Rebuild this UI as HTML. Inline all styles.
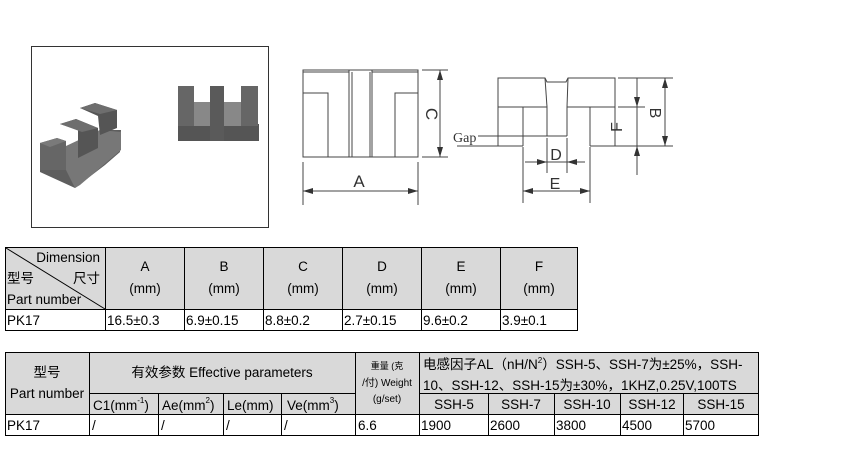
<!DOCTYPE html>
<html><head><meta charset="utf-8"><style>
html,body{margin:0;padding:0;background:#fff;}
svg{display:block;font-family:"Liberation Sans","Noto Sans CJK SC",sans-serif;}
</style></head><body>
<svg width="850" height="469" viewBox="0 0 850 469" xmlns="http://www.w3.org/2000/svg">
<rect x="31.5" y="46.5" width="237" height="181" fill="#fff" stroke="#333" stroke-width="1"/>
<g>
<rect x="178" y="124" width="81" height="17" fill="#555"/>
<rect x="178" y="86" width="16" height="40" fill="#666"/>
<rect x="210" y="86" width="14" height="55" fill="#5a5a5a"/>
<rect x="241" y="86" width="17" height="40" fill="#666"/>
<rect x="194" y="102" width="16" height="24" fill="#888"/>
<rect x="224" y="102" width="17" height="24" fill="#888"/>
</g>
<g>
<polygon points="40,145 40,172 75,188 105,165 120,152 121,130 100,130 60,150" fill="#5e5e5e"/>
<polygon points="40,143 57,138 66,141 66,170 40,170" fill="#666"/>
<polygon points="66,170 66,146 100,130 121,132 121,150 80,185 75,188" fill="#777"/>
<polygon points="60,124 76,119 98,128 98,148 78,158 78,130" fill="#555"/>
<polygon points="80,108 95,103 117,110 117,128 100,135 98,116" fill="#555"/>
<polygon points="40,143 57,138 66,141 50,147" fill="#7a7a7a"/>
<polygon points="60,124 76,119 98,128 82,132" fill="#6e6e6e"/>
<polygon points="80,108 95,103 117,110 100,114" fill="#6e6e6e"/>
</g>
<g stroke="#444" stroke-width="1" fill="none">
<rect x="303" y="70" width="115" height="87"/>
<line x1="303" y1="72" x2="349" y2="72"/><line x1="372" y1="72" x2="418" y2="72"/>
<line x1="349" y1="70" x2="349" y2="157"/><line x1="352" y1="72" x2="352" y2="157"/>
<line x1="370" y1="72" x2="370" y2="157"/><line x1="372" y1="70" x2="372" y2="157"/>
<polyline points="303,93 328,93 328,157"/>
<polyline points="418,93 395,93 395,157"/>
<line x1="422" y1="70" x2="448" y2="70"/><line x1="422" y1="157" x2="448" y2="157"/>
<line x1="440" y1="70" x2="440" y2="157"/>
<line x1="303" y1="162" x2="303" y2="205"/><line x1="418" y1="162" x2="418" y2="205"/>
<line x1="303" y1="191" x2="418" y2="191"/>
</g>
<g fill="#333">
<polygon points="440,70 437,80 443,80"/><polygon points="440,157 437,147 443,147"/>
<polygon points="303,191 313,188 313,194"/><polygon points="418,191 408,188 408,194"/>
</g>
<text x="359" y="187" font-size="17" text-anchor="middle" fill="#333">A</text>
<text transform="translate(426,114) rotate(90)" font-size="17" text-anchor="middle" fill="#333">C</text>
<g stroke="#444" stroke-width="1" fill="none">
<polyline points="498,146 498,78 545,78 547,82 566,82 568,78 615,78 615,146"/>
<line x1="498" y1="107" x2="547" y2="107"/><line x1="567" y1="107" x2="615" y2="107"/>
<line x1="545" y1="78" x2="547" y2="107"/><line x1="568" y1="78" x2="567" y2="107"/>
<polyline points="523,146 523,107"/><polyline points="590,146 590,107"/>
<line x1="547" y1="107" x2="547" y2="136"/><line x1="567" y1="107" x2="567" y2="136"/>
<line x1="478" y1="136" x2="567" y2="136"/>
<line x1="457" y1="146" x2="523" y2="146"/><line x1="590" y1="146" x2="673" y2="146"/>
<line x1="618" y1="78" x2="673" y2="78"/><line x1="618" y1="107" x2="645" y2="107"/>
<line x1="637" y1="78" x2="637" y2="175"/><line x1="665" y1="78" x2="665" y2="146"/>
<line x1="547" y1="138" x2="547" y2="173"/><line x1="567" y1="138" x2="567" y2="173"/>
<line x1="525" y1="162" x2="585" y2="162"/>
<line x1="523" y1="147" x2="523" y2="203"/><line x1="590" y1="147" x2="590" y2="203"/>
<line x1="523" y1="191" x2="590" y2="191"/>
</g>
<g fill="#333">
<polygon points="637,107 634,97 640,97"/><polygon points="637,146 634,156 640,156"/>
<polygon points="665,78 662,88 668,88"/><polygon points="665,146 662,136 668,136"/>
<polygon points="547,162 537,159 537,165"/><polygon points="567,162 577,159 577,165"/>
<polygon points="523,191 533,188 533,194"/><polygon points="590,191 580,188 580,194"/>
</g>
<text x="453" y="142" font-size="14" fill="#333" font-family="Liberation Serif">Gap</text>
<text x="556" y="160" font-size="16" text-anchor="middle" fill="#333">D</text>
<text x="555" y="189" font-size="16" text-anchor="middle" fill="#333">E</text>
<text transform="translate(622,127) rotate(-90)" font-size="16" text-anchor="middle" fill="#333">F</text>
<text transform="translate(650,113) rotate(90)" font-size="16" text-anchor="middle" fill="#333">B</text>

<rect x="5" y="247" width="573" height="62" fill="#d9d9d9"/>
<g stroke="#000" stroke-width="1" fill="none">
<rect x="5.5" y="247.5" width="572" height="83"/>
<line x1="5" y1="309.5" x2="578" y2="309.5"/>
<line x1="105.5" y1="247" x2="105.5" y2="331"/><line x1="184.5" y1="247" x2="184.5" y2="331"/>
<line x1="263.5" y1="247" x2="263.5" y2="331"/><line x1="342.5" y1="247" x2="342.5" y2="331"/>
<line x1="421.5" y1="247" x2="421.5" y2="331"/><line x1="500.5" y1="247" x2="500.5" y2="331"/>
<line x1="6" y1="248" x2="105" y2="309"/>
</g>
<g font-size="13.5" fill="#000">
<text x="100" y="262" text-anchor="end">Dimension</text>
<text x="7" y="283">型号</text><text x="100" y="283" text-anchor="end">尺寸</text>
<text x="7" y="304">Part number</text>
<g text-anchor="middle">
<text x="145" y="271">A</text><text x="145" y="293">(mm)</text>
<text x="224" y="271">B</text><text x="224" y="293">(mm)</text>
<text x="303" y="271">C</text><text x="303" y="293">(mm)</text>
<text x="382" y="271">D</text><text x="382" y="293">(mm)</text>
<text x="461" y="271">E</text><text x="461" y="293">(mm)</text>
<text x="539" y="271">F</text><text x="539" y="293">(mm)</text>
</g>
<text x="7" y="325">PK17</text><text x="107" y="325">16.5±0.3</text><text x="186" y="325">6.9±0.15</text>
<text x="265" y="325">8.8±0.2</text><text x="344" y="325">2.7±0.15</text><text x="423" y="325">9.6±0.2</text><text x="502" y="325">3.9±0.1</text>
</g>

<rect x="5" y="352" width="754" height="62" fill="#d9d9d9"/>
<g stroke="#000" stroke-width="1" fill="none">
<rect x="5.5" y="352.5" width="753" height="83"/>
<line x1="89.5" y1="352" x2="89.5" y2="436"/><line x1="355.5" y1="352" x2="355.5" y2="436"/>
<line x1="419.5" y1="352" x2="419.5" y2="436"/>
<line x1="89" y1="393.5" x2="355" y2="393.5"/><line x1="419" y1="393.5" x2="759" y2="393.5"/>
<line x1="5" y1="414.5" x2="759" y2="414.5"/>
<line x1="158.5" y1="393" x2="158.5" y2="436"/><line x1="223.5" y1="393" x2="223.5" y2="436"/>
<line x1="281.5" y1="393" x2="281.5" y2="436"/>
<line x1="488.5" y1="393" x2="488.5" y2="436"/><line x1="554.5" y1="393" x2="554.5" y2="436"/>
<line x1="620.5" y1="393" x2="620.5" y2="436"/><line x1="683.5" y1="393" x2="683.5" y2="436"/>
</g>
<g font-size="13.5" fill="#000">
<text x="47" y="377" text-anchor="middle">型号</text>
<text x="47" y="398" text-anchor="middle">Part number</text>
<text x="222" y="377" text-anchor="middle">有效参数 Effective parameters</text>
<text x="93" y="410">C1(mm<tspan font-size="8" dy="-7">-1</tspan><tspan dy="7">)</tspan></text>
<text x="162" y="410">Ae(mm<tspan font-size="8" dy="-7">2</tspan><tspan dy="7">)</tspan></text>
<text x="227" y="410">Le(mm)</text>
<text x="287" y="410">Ve(mm<tspan font-size="8" dy="-7">3</tspan><tspan dy="7">)</tspan></text>
<text x="387" y="369" font-size="9" text-anchor="middle">重量 (克</text>
<text x="387" y="386" font-size="10" text-anchor="middle">/付) Weight</text>
<text x="387" y="402" font-size="10" text-anchor="middle">(g/set)</text>
<text x="423" y="369">电感因子AL（nH/N<tspan font-size="8" dy="-6">2</tspan><tspan dy="6">）SSH-5、SSH-7为±25%，SSH-</tspan></text>
<text x="423" y="390">10、SSH-12、SSH-15为±30%，1KHZ,0.25V,100TS</text>
<g text-anchor="middle">
<text x="454" y="409">SSH-5</text><text x="521" y="409">SSH-7</text><text x="587" y="409">SSH-10</text>
<text x="652" y="409">SSH-12</text><text x="721" y="409">SSH-15</text>
</g>
<text x="7" y="430">PK17</text><text x="92" y="430">/</text><text x="161" y="430">/</text><text x="226" y="430">/</text><text x="284" y="430">/</text>
<text x="358" y="430">6.6</text><text x="421" y="430">1900</text><text x="490" y="430">2600</text><text x="556" y="430">3800</text><text x="622" y="430">4500</text><text x="685" y="430">5700</text>
</g>
</svg>
</body></html>
